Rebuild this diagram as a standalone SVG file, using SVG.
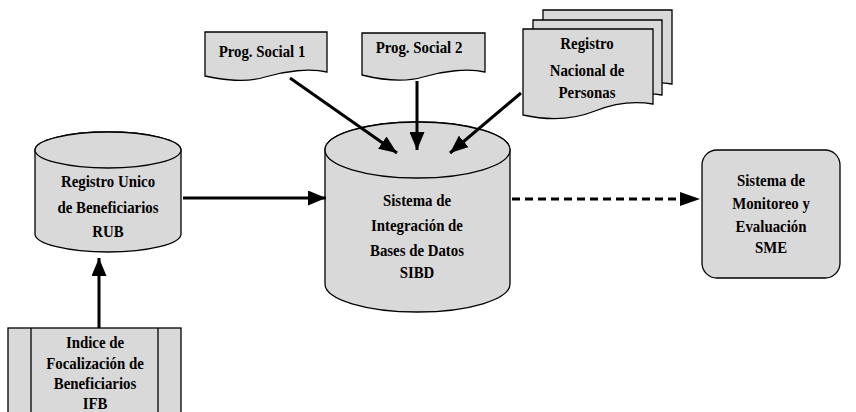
<svg xmlns="http://www.w3.org/2000/svg" width="856" height="412" viewBox="0 0 856 412">
<defs>
<style>
.s{fill:#d9d9d9;stroke:#000;stroke-width:1.3}
.t{font-family:'Liberation Serif','Times New Roman','DejaVu Serif',serif;font-weight:700;font-size:16.5px;text-anchor:middle;fill:#000;transform-box:fill-box;transform-origin:center;transform:scaleX(0.9)}
.c{stroke:#000;stroke-width:3;fill:none}
</style>
<marker id="ah" viewBox="0 0 12 10" refX="12" refY="5" markerWidth="6" markerHeight="5" markerUnits="strokeWidth" orient="auto">
<path d="M0,0 L12,5 L0,10 Z" fill="#000"/>
</marker>
</defs>
<rect width="856" height="412" fill="#fff"/>
<g id="prog1">
<path class="s" d="M205,32 H327 V72 C310,68 285,71 265,77 C245,83 225,80 205,76 Z"/>
<text class="t" x="262" y="57">Prog. Social 1</text>
</g>
<g id="prog2">
<path class="s" d="M362,33 H485 V72 C468,68 443,71 423,77 C403,83 382,80 362,75 Z"/>
<text class="t" x="419" y="53">Prog. Social 2</text>
</g>
<g id="registro">
<path class="s" d="M543,10 H672 V84 C660,82 650,83 643,84 L543,84 Z"/>
<path class="s" d="M533,20 H662 V95 C650,93 640,94 633,95 L533,95 Z"/>
<path class="s" d="M523,29 H653 V104 C635,101 615,103 595,111 C575,119 550,121 523,115 Z"/>
<text class="t" x="587" y="49">Registro</text>
<text class="t" x="587" y="76">Nacional de</text>
<text class="t" x="587" y="98">Personas</text>
</g>
<g id="rub">
<path class="s" d="M35,150 V234 A73,18 0 0 0 181,234 V150 A73,18 0 0 0 35,150 Z"/>
<ellipse class="s" cx="108" cy="150" rx="73" ry="18"/>
<text class="t" x="108" y="187">Registro Unico</text>
<text class="t" x="108" y="213">de Beneficiarios</text>
<text class="t" x="108" y="237">RUB</text>
</g>
<g id="sibd">
<path class="s" d="M325,150 V284 A92.5,28 0 0 0 510,284 V150 A92.5,28 0 0 0 325,150 Z"/>
<ellipse class="s" cx="417.5" cy="150" rx="92.5" ry="28"/>
<text class="t" x="417" y="206">Sistema de</text>
<text class="t" x="417" y="231">Integración de</text>
<text class="t" x="417" y="256">Bases de Datos</text>
<text class="t" x="417" y="278">SIBD</text>
</g>
<g id="sme">
<rect class="s" x="702" y="150" width="138" height="128" rx="15" ry="15"/>
<text class="t" x="771" y="186">Sistema de</text>
<text class="t" x="771" y="209">Monitoreo y</text>
<text class="t" x="771" y="232">Evaluación</text>
<text class="t" x="771" y="253">SME</text>
</g>
<g id="ifb">
<rect class="s" x="8" y="328" width="173" height="100"/>
<line class="s" x1="31" y1="328" x2="31" y2="412"/>
<line class="s" x1="158" y1="328" x2="158" y2="412"/>
<text class="t" x="95" y="348">Indice de</text>
<text class="t" x="95" y="369">Focalización de</text>
<text class="t" x="95" y="389">Beneficiarios</text>
<text class="t" x="95" y="409">IFB</text>
</g>
<g id="connectors">
<line class="c" x1="290" y1="78" x2="397" y2="153" marker-end="url(#ah)"/>
<line class="c" x1="417" y1="81" x2="417" y2="150" marker-end="url(#ah)"/>
<line class="c" x1="521" y1="93" x2="450" y2="153" marker-end="url(#ah)"/>
<line class="c" x1="183" y1="198" x2="326" y2="198" marker-end="url(#ah)"/>
<line class="c" x1="512" y1="199" x2="684" y2="199" stroke-dasharray="8,5"/>
<path d="M680,192 L700,199 L680,206 Z" fill="#000"/>
<line class="c" x1="99" y1="328" x2="99" y2="258" marker-end="url(#ah)"/>
</g>
</svg>
